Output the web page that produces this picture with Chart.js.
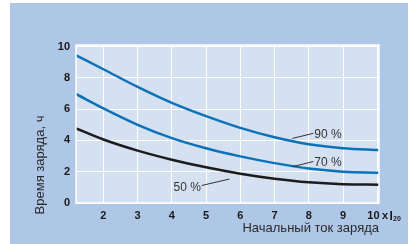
<!DOCTYPE html>
<html>
<head>
<meta charset="utf-8">
<script src="https://cdn.jsdelivr.net/npm/chart.js@4/dist/chart.umd.min.js"></script>
<style>
  html, body { margin:0; padding:0; background:#fff; }
  #wrap { width:408px; height:244px; position:relative; }
</style>
</head>
<body>
<div id="wrap"><canvas id="c" width="408" height="244"></canvas></div>
<script>
// начальный ток заряда (x I20)
const CURRENT = [1.2, 2, 3, 4, 5, 6, 7, 8, 9, 10.05];
// время заряда, ч
const SOC90 = [9.44, 8.55, 7.42, 6.4, 5.55, 4.8, 4.2, 3.75, 3.5, 3.38];
const SOC70 = [6.97, 6.05, 5.0, 4.15, 3.5, 2.98, 2.55, 2.2, 2.0, 1.94];
const SOC50 = [4.77, 4.06, 3.35, 2.77, 2.28, 1.87, 1.55, 1.32, 1.2, 1.17];
const X_TICKS = [2, 3, 4, 5, 6, 7, 8, 9, 10];
const Y_TICKS = [0, 2, 4, 6, 8, 10];

const BLUE = '#0b72b9';
const BLACK = '#1c1c1c';
const FONT = '"Liberation Sans", Arial, sans-serif';

// подписи кривых: текст + выноска (в координатах данных)
const NOTES = [
  {text:'90 %', tx:8.16, ty:4.39, from:[7.52,4.13], to:[8.13,4.45], align:'left'},
  {text:'70 %', tx:8.16, ty:2.6,  from:[7.52,2.32], to:[8.13,2.65], align:'left'},
  {text:'50 %', tx:4.85, ty:0.97, from:[4.87,1.12], to:[5.68,1.53], align:'right'}
];

const pts = ys => CURRENT.map((x,i)=>({x, y: ys[i]}));

const decor = {
  id: 'decor',
  beforeDraw(chart){
    const {ctx, chartArea:a} = chart;
    ctx.save();
    ctx.fillStyle = '#aec7e7';
    ctx.fillRect(10, 3, 398, 241);
    ctx.fillStyle = '#d5e0f1';
    ctx.fillRect(a.left, a.top, a.right-a.left, a.bottom-a.top);
    ctx.restore();
  },
  afterDatasetsDraw(chart){
    const {ctx, chartArea:a, scales:{x, y}} = chart;
    ctx.save();
    ctx.strokeStyle = '#ffffff';
    ctx.lineWidth = 1.5;
    ctx.strokeRect(a.left, a.top, a.right-a.left, a.bottom-a.top);

    // выноски
    ctx.strokeStyle = '#333';
    ctx.lineWidth = 1;
    ctx.fillStyle = '#333';
    ctx.font = '12px ' + FONT;
    ctx.textBaseline = 'middle';
    NOTES.forEach(n=>{
      ctx.beginPath();
      ctx.moveTo(x.getPixelForValue(n.from[0]), y.getPixelForValue(n.from[1]));
      ctx.lineTo(x.getPixelForValue(n.to[0]), y.getPixelForValue(n.to[1]));
      ctx.stroke();
      ctx.textAlign = n.align;
      ctx.fillText(n.text, x.getPixelForValue(n.tx), y.getPixelForValue(n.ty));
    });

    // последняя метка "10 x I20"
    ctx.fillStyle = '#1a1a1a';
    ctx.textBaseline = 'alphabetic';
    ctx.font = 'bold 11px ' + FONT;
    ctx.textAlign = 'right';
    ctx.fillText('10', 379.5, 218.5);
    ctx.textAlign = 'left';
    ctx.fillText('x', 382, 218.5);
    ctx.font = 'bold 12px ' + FONT;
    ctx.fillText('I', 389.5, 220);
    ctx.font = 'bold 7px ' + FONT;
    ctx.fillText('20', 393, 220.5);

    // заголовки осей
    ctx.fillStyle = '#2a2a2a';
    ctx.font = '13px ' + FONT;
    ctx.textAlign = 'right';
    ctx.textBaseline = 'middle';
    ctx.fillText('Начальный ток заряда', a.right, 228);
    ctx.translate(40, 165);
    ctx.rotate(-Math.PI/2);
    ctx.textAlign = 'center';
    ctx.fillText('Время заряда, ч', 0, 0);
    ctx.restore();
  }
};

const line = (ys, color) => ({
  data: pts(ys),
  borderColor: color,
  borderWidth: 2.5,
  pointRadius: 0,
  fill: false,
  cubicInterpolationMode: 'monotone'
});

new Chart(document.getElementById('c'), {
  type: 'line',
  data: { datasets: [ line(SOC90, BLUE), line(SOC70, BLUE), line(SOC50, BLACK) ] },
  options: {
    responsive: false,
    animation: false,
    layout: { padding: { left: 0, top: 45, right: 29, bottom: 0 } },
    plugins: { legend: {display:false}, tooltip: {enabled:false} },
    scales: {
      x: {
        type: 'linear', min: 1.2, max: 10.05,
        afterBuildTicks: s => { s.ticks = X_TICKS.map(v=>({value:v})); },
        afterFit: s => { s.height = 41; },
        grid: { color:'#ffffff', lineWidth:1, drawTicks:false },
        border: { display:false },
        ticks: { padding: 6, color:'#1a1a1a', font:{ family:FONT, size:11, weight:'bold' },
                 callback: v => v === 10 ? '' : String(v) }
      },
      y: {
        type: 'linear', min: 0, max: 10.1,
        afterBuildTicks: s => { s.ticks = Y_TICKS.map(v=>({value:v})); },
        afterFit: s => { s.width = 76; },
        grid: { color:'#ffffff', lineWidth:1, drawTicks:false },
        border: { display:false },
        ticks: { padding: 6, color:'#1a1a1a', font:{ family:FONT, size:11, weight:'bold' } }
      }
    }
  },
  plugins: [decor]
});
</script>
</body>
</html>
